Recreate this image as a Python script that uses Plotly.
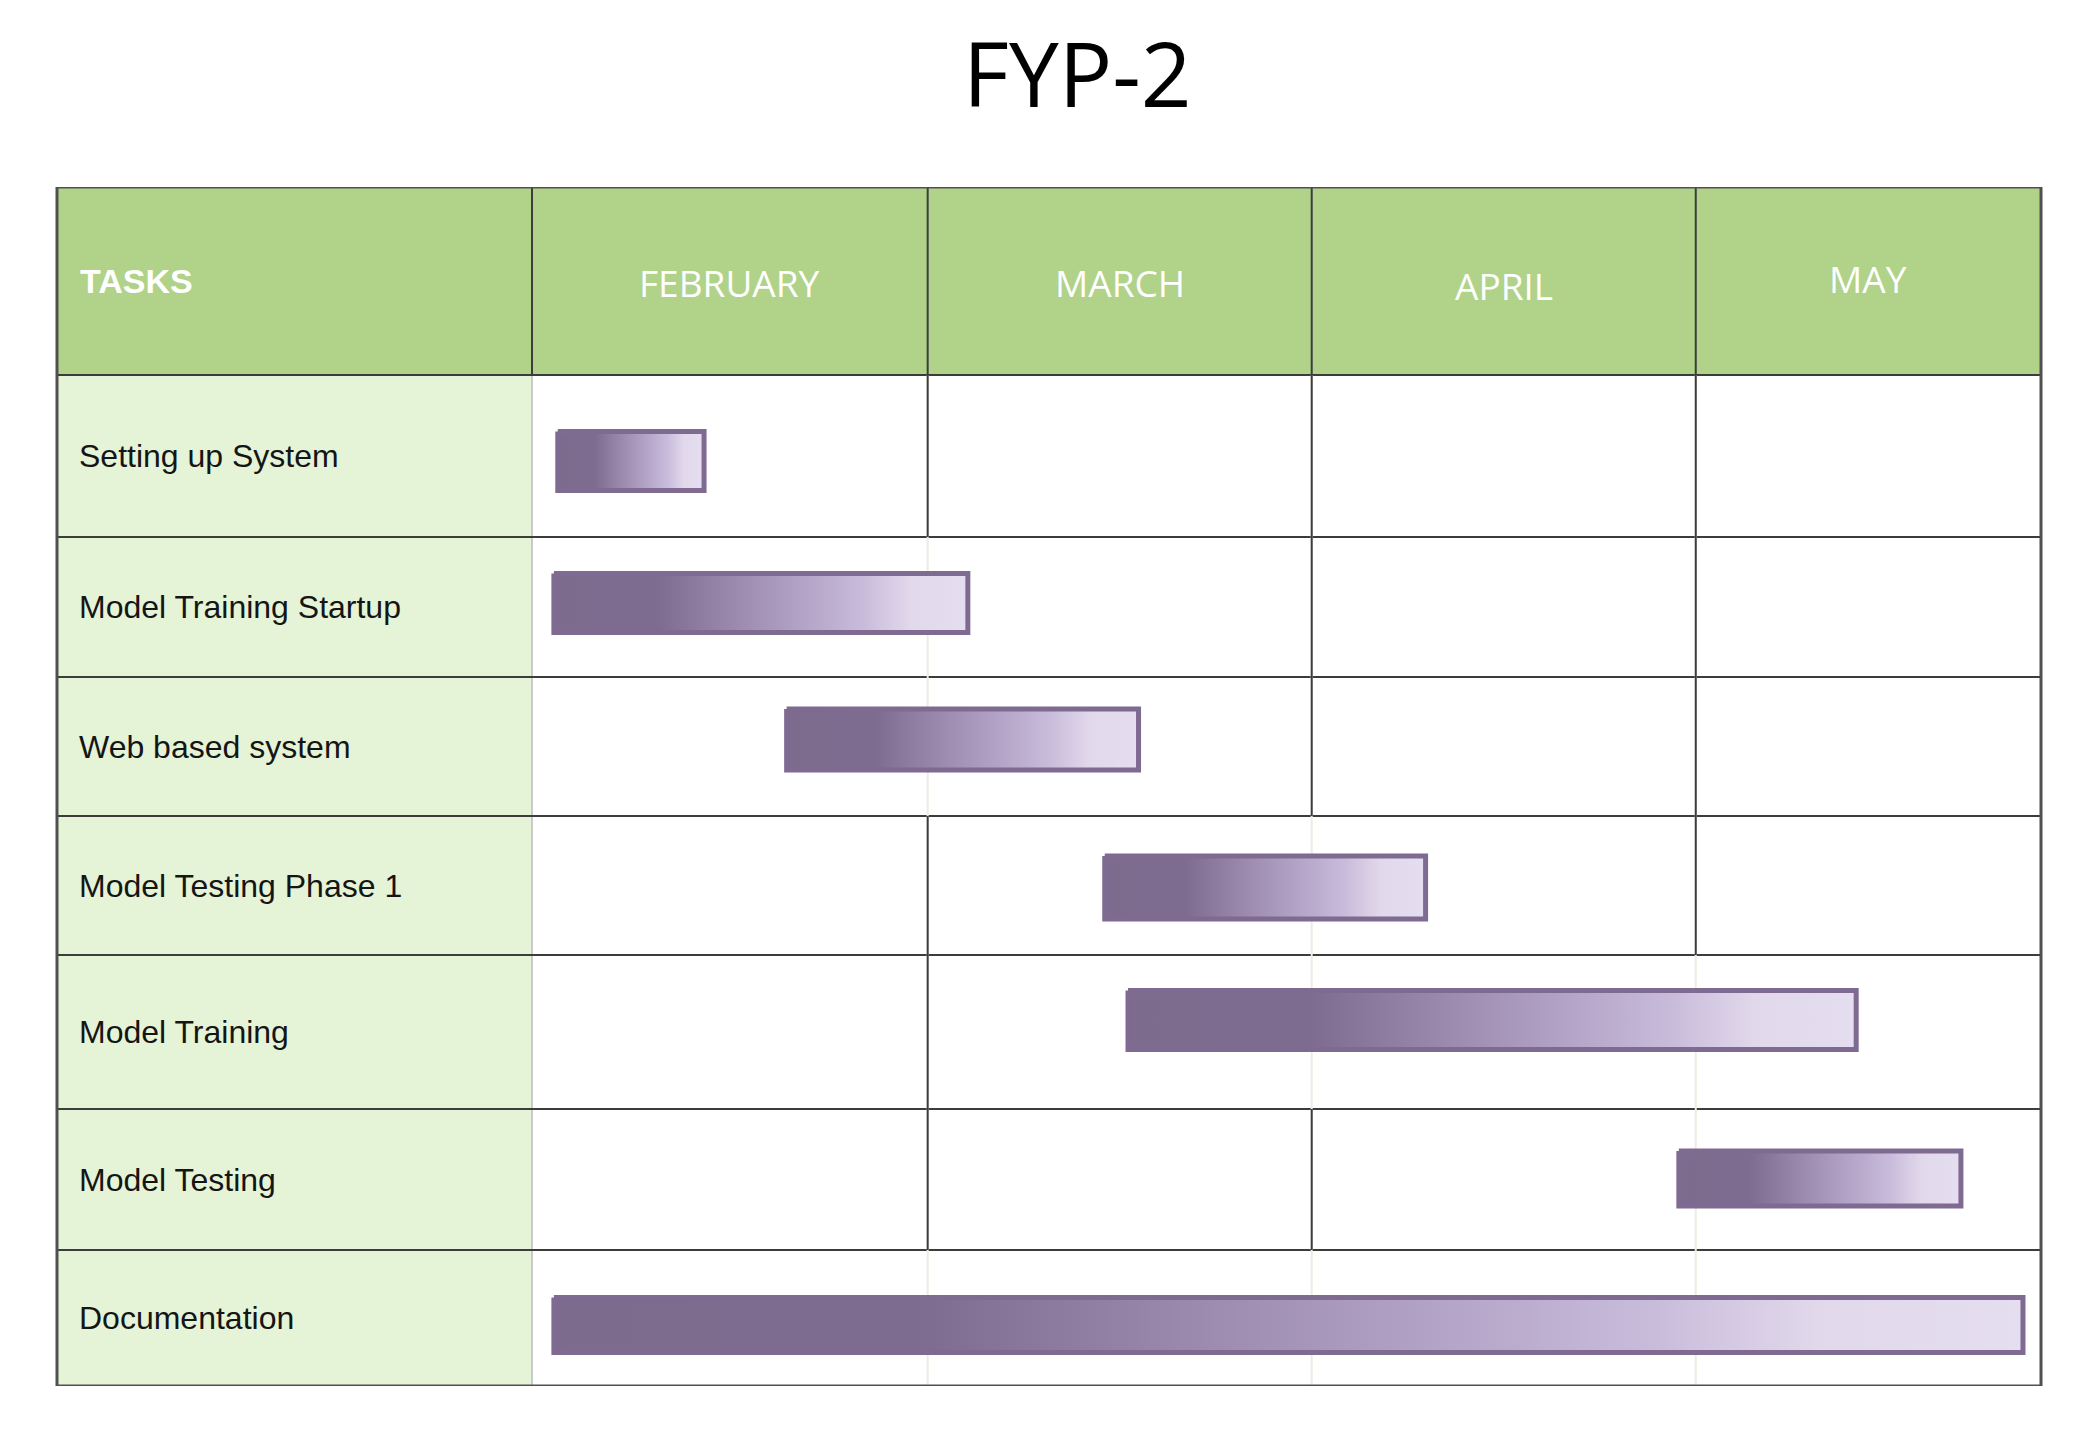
import plotly.graph_objects as go

# ---------------- data ----------------
TASKS = [
    "Setting up System",
    "Model Training Startup",
    "Web based system",
    "Model Testing Phase 1",
    "Model Training",
    "Model Testing",
    "Documentation",
]
# start / end in month units (0 = start of February)
TASK_START = [0.06, 0.05, 0.65, 1.47, 1.53, 2.95, 0.05]
TASK_END = [0.45, 1.13, 1.57, 2.31, 3.42, 3.69, 3.85]

MONTHS = ["FEBRUARY", "MARCH", "APRIL", "MAY"]
MONTH_START = [0.0, 1.02, 2.01, 3.0]
TIMELINE_END = 3.89

TITLE = "FYP-2"
TASK_HEADER = "TASKS"

# ---------------- layout constants ----------------
W, H = 2085, 1437
ML, MR, MT, MB = 57, 44, 187, 51
PLOT_W = W - ML - MR
PLOT_H = H - MT - MB
TASK_COL_W = 475
X_DOMAIN0 = TASK_COL_W / PLOT_W
PX_PER_UNIT = (PLOT_W - TASK_COL_W) / TIMELINE_END
HEADER_H = 188
ROW_EDGES = [188, 350, 490, 629, 768, 922, 1063, PLOT_H]
BAR_OFFSET = [5, -4, -7, 2, -12, -1, 7]      # px, vertical nudge of bars within rows
BAR_HALF = [32, 32, 33, 34, 32, 30, 30]       # px, half bar height
MONTH_LABEL_NUDGE = [1, 1, 4, -3]             # px, vertical nudge of month labels
LINE_W = 5
PAD = (LINE_W / 2) / PX_PER_UNIT

HEADER_GREEN = "#b0d289"
TASK_BG = "#e5f3d7"
DARK_LINE = "#3c3c3c"
FAINT_LINE = "#efebe0"
SOFT_LINE = "#c9c9c9"
OUTLINE = "#7f6b92"
GRAD = [
    [0.0, "#7d6b8e"],
    [0.25, "#7e6c90"],
    [0.45, "#9d8cb0"],
    [0.62, "#b6a6c9"],
    [0.75, "#c9bcdb"],
    [0.86, "#e1d8eb"],
    [1.0, "#e5def0"],
]

fig = go.Figure()

# ---------------- bars ----------------
for i, (s, e) in enumerate(zip(TASK_START, TASK_END)):
    c = (ROW_EDGES[i] + ROW_EDGES[i + 1]) / 2 + BAR_OFFSET[i]
    h = BAR_HALF[i] - LINE_W / 2
    x0, x1 = s + PAD, e - PAD
    fig.add_trace(go.Scatter(
        x=[x0, x1, x1, x0, x0],
        y=[c - h, c - h, c + h, c + h, c - h],
        mode="lines",
        fill="toself",
        fillgradient=dict(type="horizontal", colorscale=GRAD),
        line=dict(color=OUTLINE, width=LINE_W),
        hoverinfo="skip",
        showlegend=False,
    ))

shapes = []
# header background
shapes.append(dict(type="rect", xref="paper", yref="y", x0=0, x1=1, y0=0, y1=HEADER_H,
                   fillcolor=HEADER_GREEN, line=dict(width=0), layer="below"))
# task column background
shapes.append(dict(type="rect", xref="paper", yref="y", x0=0, x1=X_DOMAIN0, y0=HEADER_H, y1=PLOT_H,
                   fillcolor=TASK_BG, line=dict(width=0), layer="below"))
# faint month lines in body
for b in MONTH_START[1:]:
    shapes.append(dict(type="line", xref="x", yref="y", x0=b, x1=b, y0=HEADER_H, y1=PLOT_H,
                       line=dict(color=FAINT_LINE, width=2), layer="below"))
# dark month dividers (header + rows the bar does not cross)
for b in MONTH_START[1:]:
    shapes.append(dict(type="line", xref="x", yref="y", x0=b, x1=b, y0=0, y1=HEADER_H,
                       line=dict(color=DARK_LINE, width=2), layer="below"))
    for i, (s, e) in enumerate(zip(TASK_START, TASK_END)):
        if not (s < b < e):
            shapes.append(dict(type="line", xref="x", yref="y", x0=b, x1=b,
                               y0=ROW_EDGES[i], y1=ROW_EDGES[i + 1],
                               line=dict(color=DARK_LINE, width=2), layer="below"))
# task column divider
shapes.append(dict(type="line", xref="paper", yref="y", x0=X_DOMAIN0, x1=X_DOMAIN0, y0=HEADER_H, y1=PLOT_H,
                   line=dict(color=SOFT_LINE, width=2), layer="below"))
shapes.append(dict(type="line", xref="paper", yref="y", x0=X_DOMAIN0, x1=X_DOMAIN0, y0=0, y1=HEADER_H,
                   line=dict(color=DARK_LINE, width=2), layer="below"))
# horizontal row lines
for yv in ROW_EDGES[:-1]:
    shapes.append(dict(type="line", xref="paper", yref="y", x0=0, x1=1, y0=yv, y1=yv,
                       line=dict(color=DARK_LINE, width=2), layer="below"))
# outer border
shapes.append(dict(type="rect", xref="paper", yref="y", x0=0, x1=1, y0=0, y1=PLOT_H,
                   line=dict(color="#505050", width=3), layer="above"))

annotations = []
annotations.append(dict(text=TITLE, xref="paper", yref="paper", x=(1077 - ML) / PLOT_W,
                        y=(H - MB - 73) / PLOT_H, xanchor="center", yanchor="middle", showarrow=False,
                        font=dict(family="Open Sans", size=89, color="#000000")))
annotations.append(dict(text="<b>" + TASK_HEADER + "</b>", xref="paper", yref="y", x=21 / PLOT_W,
                        y=HEADER_H / 2, xanchor="left", yanchor="middle", showarrow=False,
                        font=dict(family="Liberation Sans, Arial", size=34, color="#ffffff")))
month_edges = MONTH_START + [TIMELINE_END]
for k, m in enumerate(MONTHS):
    annotations.append(dict(text=m, xref="x", yref="y", x=(month_edges[k] + month_edges[k + 1]) / 2,
                            y=HEADER_H / 2 + MONTH_LABEL_NUDGE[k], xanchor="center", yanchor="middle",
                            showarrow=False,
                            font=dict(family="Open Sans", size=37, color="#ffffff")))
for i, t in enumerate(TASKS):
    annotations.append(dict(text=t, xref="paper", yref="y", x=20 / PLOT_W,
                            y=(ROW_EDGES[i] + ROW_EDGES[i + 1]) / 2, xanchor="left", yanchor="middle",
                            showarrow=False,
                            font=dict(family="Liberation Sans, Arial", size=32, color="#151515")))

fig.update_layout(
    width=W, height=H,
    margin=dict(l=ML, r=MR, t=MT, b=MB),
    paper_bgcolor="#ffffff",
    plot_bgcolor="#ffffff",
    shapes=shapes,
    annotations=annotations,
    xaxis=dict(range=[0, TIMELINE_END], domain=[X_DOMAIN0, 1], showgrid=False, zeroline=False,
               showticklabels=False, ticks="", fixedrange=True),
    yaxis=dict(range=[PLOT_H, 0], showgrid=False, zeroline=False, showticklabels=False,
               ticks="", fixedrange=True),
    showlegend=False,
)

fig.write_html("out.html")
